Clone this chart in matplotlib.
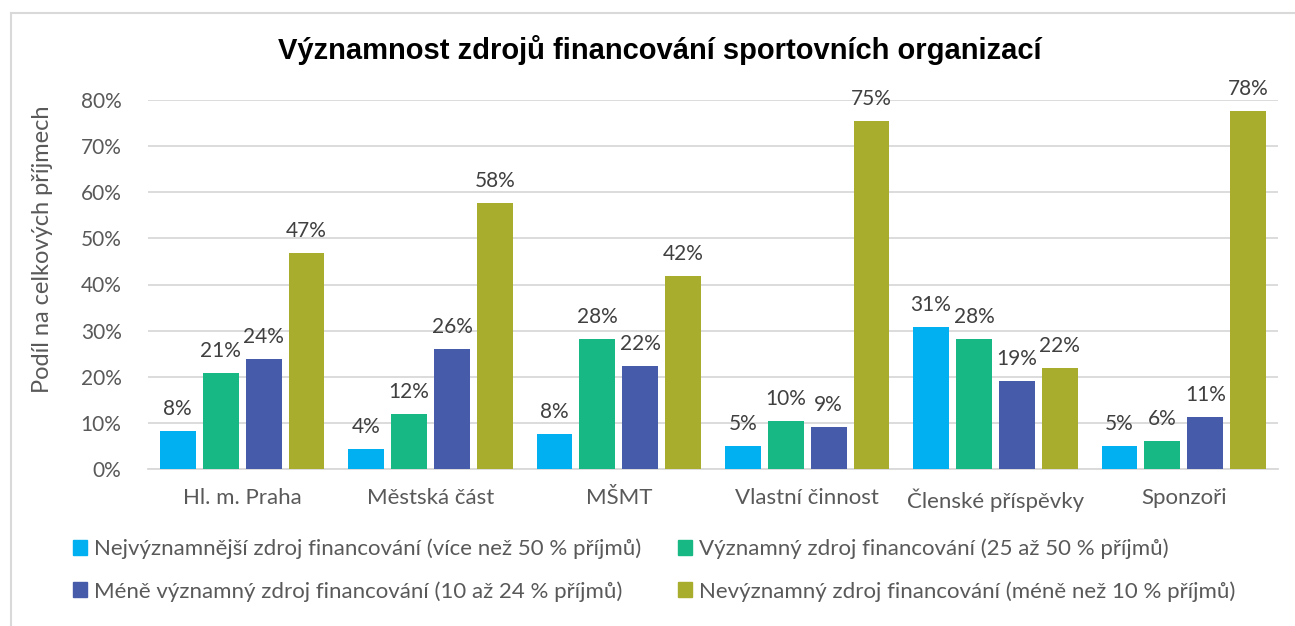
import matplotlib
matplotlib.use("Agg")
import matplotlib.pyplot as plt
from matplotlib.patches import Patch
from matplotlib.lines import Line2D
import numpy as np

categories = ["Hl. m. Praha", "Městská část", "MŠMT", "Vlastní činnost", "Členské příspěvky", "Sponzoři"]
series_names = [
    "Nejvýznamnější zdroj financování (více než 50 % příjmů)",
    "Významný zdroj financování (25 až 50 % příjmů)",
    "Méně významný zdroj financování (10 až 24 % příjmů)",
    "Nevýznamný zdroj financování (méně než 10 % příjmů)",
]
nejvyznamnejsi = [0.082, 0.043, 0.076, 0.050, 0.308, 0.050]
vyznamny = [0.208, 0.119, 0.282, 0.104, 0.282, 0.061]
mene_vyznamny = [0.238, 0.260, 0.223, 0.091, 0.191, 0.113]
nevyznamny = [0.468, 0.577, 0.418, 0.754, 0.219, 0.776]
yticks = [0, 0.1, 0.2, 0.3, 0.4, 0.5, 0.6, 0.7, 0.8]
ytick_labels = ["0%", "10%", "20%", "30%", "40%", "50%", "60%", "70%", "80%"]

colors = ["#00B0F0", "#17B884", "#465BA9", "#A9AD2E"]
series = [nejvyznamnejsi, vyznamny, mene_vyznamny, nevyznamny]

plt.rcParams['font.family'] = ['Lato', 'DejaVu Sans']
text_gray = "#595959"

fig = plt.figure(figsize=(12.95, 6.26), dpi=100)
ax = fig.add_axes([148/1295, 1-469/626, (1278-148)/1295, (469-100)/626])

x = np.arange(len(categories))
w = 0.19
step = 0.228
for i, (vals, c) in enumerate(zip(series, colors)):
    pos = x + (i - 1.5) * step
    bars = ax.bar(pos, vals, width=w, color=c, zorder=3, label=series_names[i])
    for b, v in zip(bars, vals):
        ax.text(b.get_x() + b.get_width()/2, v + 0.026, f"{round(v*100):.0f}%",
                ha="center", va="bottom", fontsize=15, color="#404040", zorder=4)

ax.set_xlim(-0.5, len(categories) - 0.5)
ax.set_ylim(0, 0.8)
ax.set_yticks(yticks)
ax.set_yticklabels(ytick_labels, fontsize=15, color=text_gray)
ax.set_xticks(x)
ax.set_xticklabels(categories, fontsize=16, color=text_gray)
ax.tick_params(axis="both", length=0)
ax.tick_params(axis="y", pad=19)
ax.tick_params(axis="x", pad=14)
ax.grid(axis="y", color="#D9D9D9", linewidth=1.3, zorder=0)
for s in ["top", "right", "left"]:
    ax.spines[s].set_visible(False)
ax.spines["bottom"].set_color("#D9D9D9")
ax.spines["bottom"].set_linewidth(1.3)
ax.set_ylabel("Podíl na celkových příjmech", fontsize=17, color=text_gray, va="center")
ax.yaxis.set_label_coords((43-148)/1130, (469-249)/369)

fig.text(660/1295, 1-50/626, "Významnost zdrojů financování sportovních organizací",
         ha="center", va="center", fontsize=21, fontweight="bold",
         family=["Liberation Sans", "DejaVu Sans"], color="black")

order = [0, 2, 1, 3]
handles = [Patch(color=colors[i]) for i in order]
labels = [series_names[i] for i in order]
fig.legend(handles, labels, ncol=2, loc="center left",
           bbox_to_anchor=(53/1295, 1-570/626), frameon=False, fontsize=16,
           labelcolor=text_gray, handlelength=0.65, handleheight=0.65,
           handletextpad=0.3, columnspacing=1.65, labelspacing=1.0)

# chart-area border (top and left edges visible, rest cropped)
fig.add_artist(Line2D([10.5/1295, 1.0], [1-12.5/626, 1-12.5/626],
                      transform=fig.transFigure, color="#D9D9D9", linewidth=1.5))
fig.add_artist(Line2D([10.5/1295, 10.5/1295], [1-12.5/626, 0.0],
                      transform=fig.transFigure, color="#D9D9D9", linewidth=1.5))

fig.savefig("out.png", dpi=100, facecolor="white")
